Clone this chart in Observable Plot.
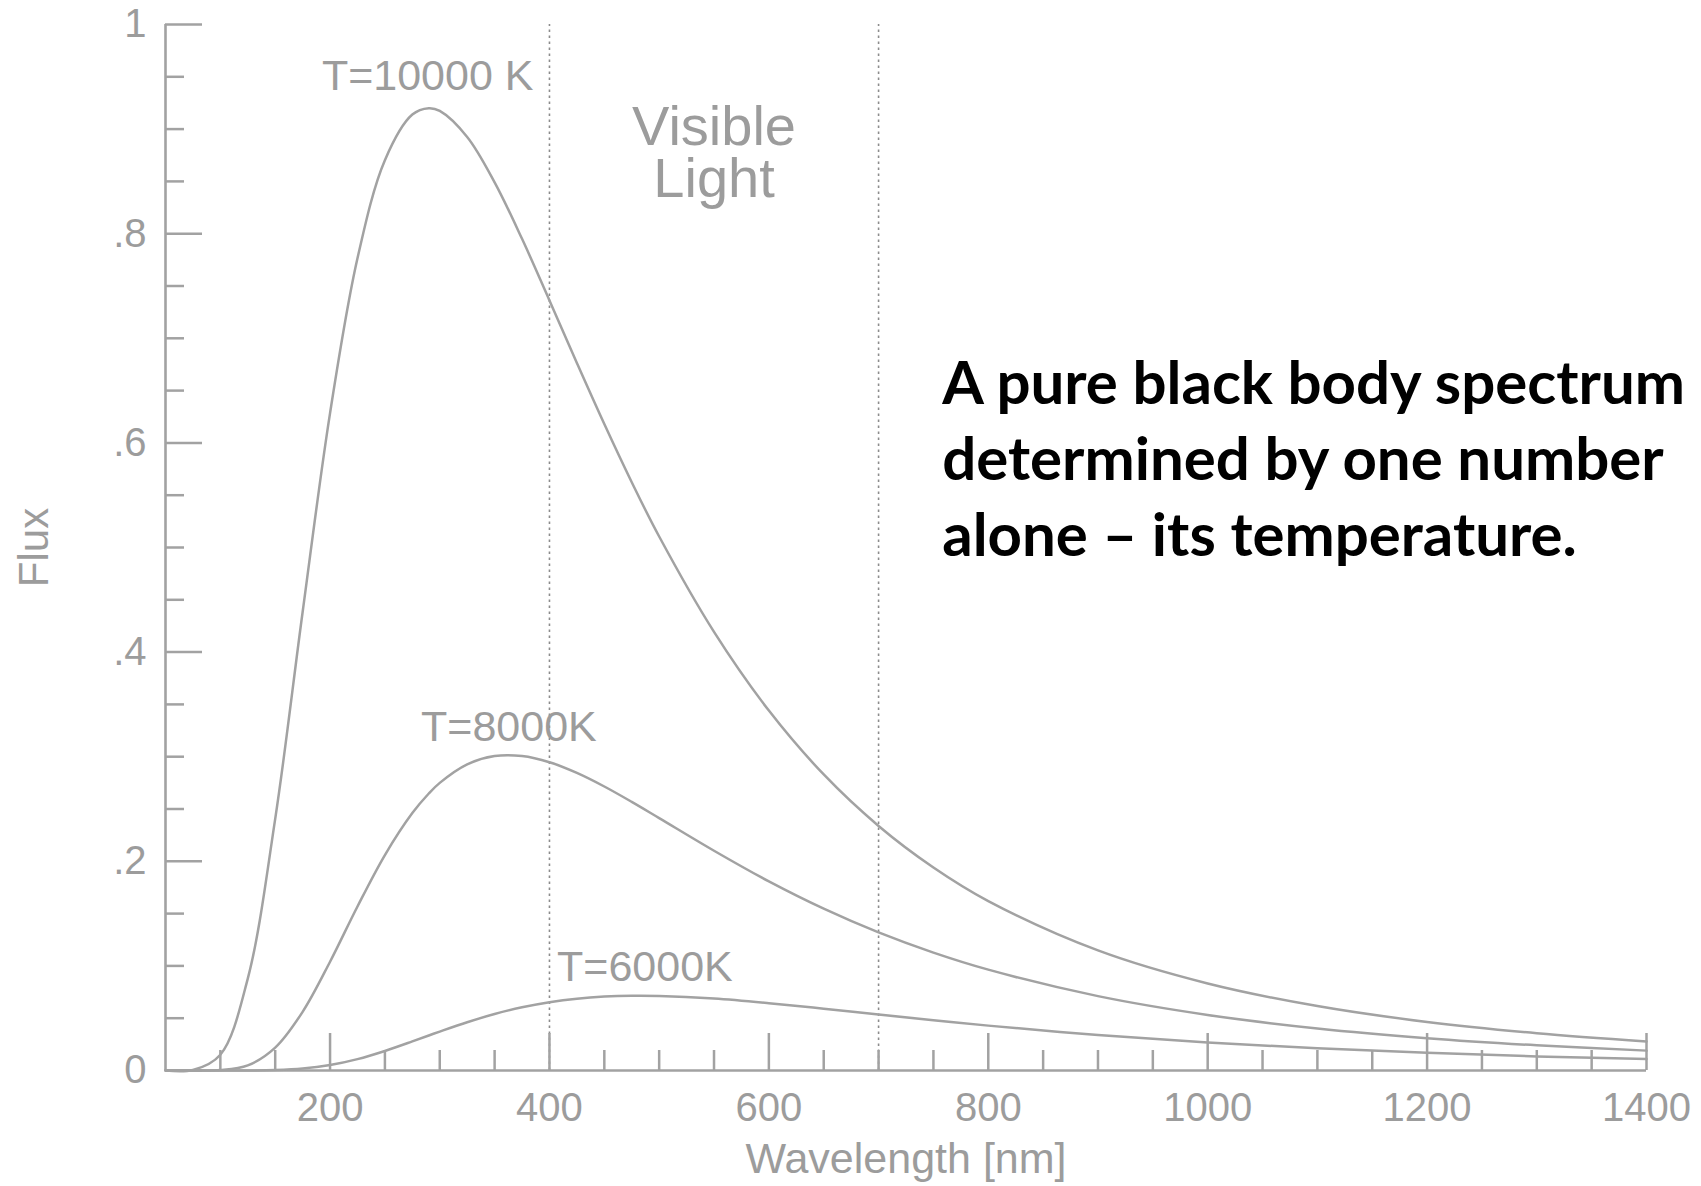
<!DOCTYPE html>
<html>
<head>
<meta charset="utf-8">
<script src="https://cdn.jsdelivr.net/npm/d3@7"></script>
<script src="https://cdn.jsdelivr.net/npm/@observablehq/plot@0.6"></script>
<style>
  html, body { margin: 0; padding: 0; background: #fff; }
  #chart svg { display: block; }
</style>
</head>
<body>
<div id="chart"></div>
<script>
// Wavelength samples [nm]
const wavelength = [50, 75, 100, 125, 150, 175, 200, 225, 250, 275, 290, 300, 325, 350, 375, 400, 425, 450, 475, 500, 550, 600, 650, 700, 750, 800, 900, 1000, 1100, 1200, 1300, 1400];
// Flux
const flux10000 = [0, 0.0005, 0.0151, 0.0879, 0.2406, 0.4383, 0.6285, 0.7765, 0.8703, 0.9139, 0.9200, 0.9174, 0.8925, 0.8491, 0.7951, 0.7362, 0.6764, 0.6180, 0.5624, 0.5105, 0.4193, 0.3441, 0.2830, 0.2338, 0.1941, 0.1620, 0.1148, 0.0832, 0.0616, 0.0464, 0.0356, 0.0277];
const flux8000  = [0, 0, 0.0004, 0.0049, 0.0219, 0.0561, 0.1040, 0.1568, 0.2060, 0.2461, 0.2648, 0.2750, 0.2927, 0.3006, 0.3006, 0.2947, 0.2845, 0.2715, 0.2568, 0.2413, 0.2101, 0.1808, 0.1547, 0.1320, 0.1127, 0.0964, 0.0711, 0.0531, 0.0402, 0.0309, 0.0241, 0.0190];
const flux6000  = [0, 0, 0, 0.0000, 0.0004, 0.0018, 0.0052, 0.0109, 0.0187, 0.0278, 0.0335, 0.0372, 0.0461, 0.0540, 0.0604, 0.0653, 0.0687, 0.0707, 0.0715, 0.0713, 0.0688, 0.0644, 0.0591, 0.0535, 0.0481, 0.0429, 0.0339, 0.0268, 0.0212, 0.0169, 0.0135, 0.0110];

const seriesNames = ["10000", "8000", "6000"];
const seriesFlux = [flux10000, flux8000, flux6000];

// Curve labels
const curveLabels = ["T=10000 K", "T=8000K", "T=6000K"];
const curveLabelX = [289, 363, 487];
const curveLabelY = [0.951, 0.328, 0.0985];

// Visible band bounds
const visibleBounds = [400, 700];
const visibleLabel = "Visible\nLight";

// Axis ticks
const xMajor = [200, 400, 600, 800, 1000, 1200, 1400];
const xMinor = [100, 150, 250, 300, 350, 450, 500, 550, 650, 700, 750, 850, 900, 950, 1050, 1100, 1150, 1250, 1300, 1350];
const yMajor = [0, 0.2, 0.4, 0.6, 0.8, 1];
const yMinor = [0.05, 0.1, 0.15, 0.25, 0.3, 0.35, 0.45, 0.5, 0.55, 0.65, 0.7, 0.75, 0.85, 0.9, 0.95];

const note = "A pure black body spectrum\ndetermined by one number\nalone \u2013 its temperature.";

const rows = seriesNames.flatMap((T, s) => wavelength.map((w, i) => ({T, w, f: seriesFlux[s][i]})));
const labelRows = curveLabels.map((t, i) => ({t, x: curveLabelX[i], y: curveLabelY[i]}));

const GRAY = "#a2a2a2";
const TEXT = "#9c9c9c";
const yFmt = d => d === 0 ? "0" : d === 1 ? "1" : "." + Math.round(d * 10);

const chart = Plot.plot({
  width: 1701,
  height: 1186,
  marginLeft: 165,
  marginRight: 55,
  marginTop: 24,
  marginBottom: 116,
  style: {fontFamily: "'Liberation Sans', Arial, Helvetica, sans-serif", background: "#fff"},
  x: {type: "linear", domain: [50, 1400]},
  y: {type: "linear", domain: [0, 1]},
  marks: [
    // visible band dotted lines
    Plot.ruleX(visibleBounds, {y1: 0, y2: 1, stroke: "#8c8c8c", strokeWidth: 1.6, strokeDasharray: "2.5,3.5"}),
    // ticks (inward)
    Plot.axisX(xMajor, {tickSize: -37, tickFormat: () => "", stroke: GRAY, strokeWidth: 2.5, label: null}),
    Plot.axisX(xMinor, {tickSize: -20, tickFormat: () => "", stroke: GRAY, strokeWidth: 2.5, label: null}),
    Plot.axisY(yMajor, {tickSize: -37, tickFormat: () => "", stroke: GRAY, strokeWidth: 2.5, label: null}),
    Plot.axisY(yMinor, {tickSize: -19, tickFormat: () => "", stroke: GRAY, strokeWidth: 2.5, label: null}),
    // tick labels
    Plot.axisX(xMajor, {tickSize: 0, tickPadding: 22, tickFormat: d => String(d), fill: TEXT, fontSize: 40, label: null}),
    Plot.axisY(yMajor, {tickSize: 0, tickPadding: 19, tickFormat: yFmt, fill: TEXT, fontSize: 40, label: null}),
    // axis lines
    Plot.ruleY([0], {stroke: GRAY, strokeWidth: 2.6}),
    Plot.ruleX([50], {stroke: GRAY, strokeWidth: 2.6}),
    // curves
    Plot.line(rows, {x: "w", y: "f", z: "T", stroke: GRAY, strokeWidth: 2.5, curve: "catmull-rom"}),
    // curve labels
    Plot.text(labelRows, {x: "x", y: "y", text: "t", fill: TEXT, fontSize: 43, lineAnchor: "middle", textAnchor: "middle"}),
    Plot.text([visibleLabel], {x: d3.mean(visibleBounds), y: 0.876, text: d => d, fill: TEXT, fontSize: 56, lineHeight: 0.93, lineAnchor: "middle"}),
    // axis titles
    Plot.text(["Flux"], {frameAnchor: "left", text: d => d, dx: -131, rotate: -90, fill: TEXT, fontSize: 42, textAnchor: "middle", lineAnchor: "middle"}),
    Plot.text(["Wavelength [nm]"], {frameAnchor: "bottom", text: d => d, dy: 89, fill: TEXT, fontSize: 43, textAnchor: "middle", lineAnchor: "middle"}),
    // annotation
    Plot.text([note], {x: 758, y: 0.689, text: d => d, textAnchor: "start", lineAnchor: "top", fontSize: 60, fontWeight: "bold", fontFamily: "Lato, 'Open Sans', sans-serif", fill: "#000", lineHeight: 1.27})
  ]
});
document.getElementById("chart").appendChild(chart);
</script>
</body>
</html>
